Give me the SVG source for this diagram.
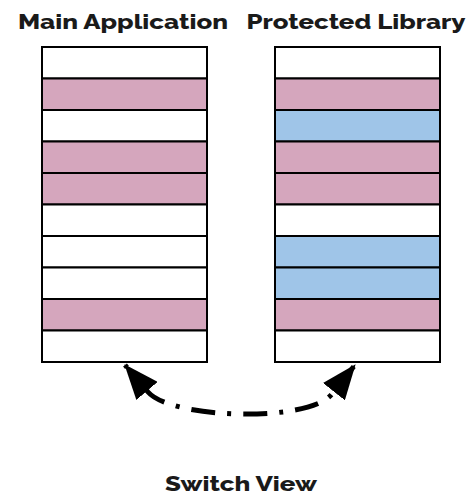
<svg xmlns="http://www.w3.org/2000/svg" width="473" height="495" viewBox="0 0 473 495">
<defs>
<style>
.t{font-family:"Raleway","Lato","Liberation Sans",sans-serif;font-weight:800;fill:#1a1a1a;text-anchor:middle}
.w{fill:#ffffff;stroke:#000;stroke-width:2}
.p{fill:#d5a6bd;stroke:#000;stroke-width:2}
.b{fill:#9fc5e8;stroke:#000;stroke-width:2}
.c{fill:none;stroke:#000;stroke-width:5;stroke-dasharray:24 12 4 12;stroke-dashoffset:21}
</style>
<marker id="ah" viewBox="0 0 7 5.6" refX="6.8" refY="2.8" markerWidth="7" markerHeight="5.6" orient="auto-start-reverse" markerUnits="strokeWidth">
<path d="M0,0 L7,2.8 L0,5.6 z" fill="#000"/>
</marker>
</defs>
<rect width="473" height="495" fill="#fff"/>
<g id="title-main"><text class="t" x="123" y="29" font-size="20.5" textLength="210" lengthAdjust="spacingAndGlyphs">Main Application</text></g>
<g id="title-lib"><text class="t" x="356" y="29" font-size="20.5" textLength="219" lengthAdjust="spacingAndGlyphs">Protected Library</text></g>
<g id="main-app">
<rect class="w" x="42" y="47" width="165" height="31.5"/>
<rect class="p" x="42" y="78.5" width="165" height="31.5"/>
<rect class="w" x="42" y="110" width="165" height="31.5"/>
<rect class="p" x="42" y="141.5" width="165" height="31.5"/>
<rect class="p" x="42" y="173" width="165" height="31.5"/>
<rect class="w" x="42" y="204.5" width="165" height="31.5"/>
<rect class="w" x="42" y="236" width="165" height="31.5"/>
<rect class="w" x="42" y="267.5" width="165" height="31.5"/>
<rect class="p" x="42" y="299" width="165" height="31.5"/>
<rect class="w" x="42" y="330.5" width="165" height="31.5"/>
</g>
<g id="protected-lib">
<rect class="w" x="275" y="47" width="165" height="31.5"/>
<rect class="p" x="275" y="78.5" width="165" height="31.5"/>
<rect class="b" x="275" y="110" width="165" height="31.5"/>
<rect class="p" x="275" y="141.5" width="165" height="31.5"/>
<rect class="p" x="275" y="173" width="165" height="31.5"/>
<rect class="w" x="275" y="204.5" width="165" height="31.5"/>
<rect class="b" x="275" y="236" width="165" height="31.5"/>
<rect class="b" x="275" y="267.5" width="165" height="31.5"/>
<rect class="p" x="275" y="299" width="165" height="31.5"/>
<rect class="w" x="275" y="330.5" width="165" height="31.5"/>
</g>
<g id="connectors">
<path class="c" d="M125,365 L148,392 C171,419 309,423 332,394 L355,365" marker-start="url(#ah)" marker-end="url(#ah)"/>
</g>
<g id="label-switch"><text class="t" x="241" y="491" font-size="21" textLength="152" lengthAdjust="spacingAndGlyphs">Switch View</text></g>
</svg>
